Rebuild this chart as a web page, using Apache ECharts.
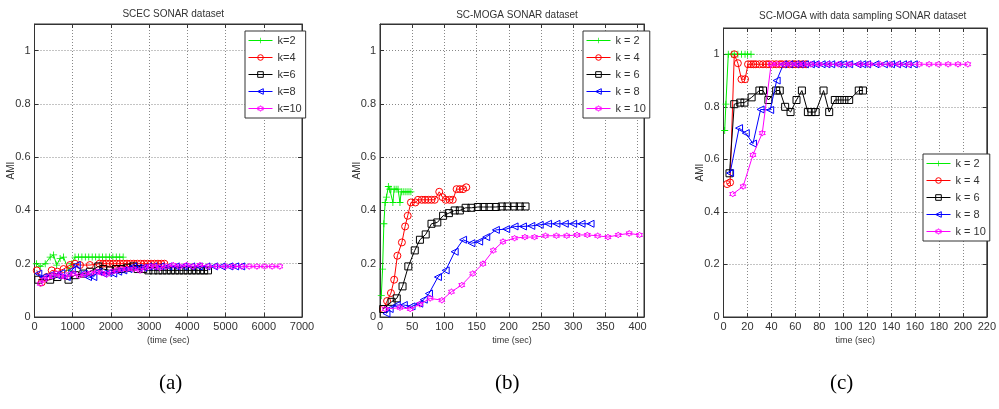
<!DOCTYPE html>
<html>
<head>
<meta charset="utf-8">
<title>AMI over time</title>
<script src="https://cdn.jsdelivr.net/npm/echarts@6/dist/echarts.min.js"></script>
<style>
  html, body { margin: 0; padding: 0; background: #fff; }
  #chart { width: 999px; height: 409px; }
</style>
</head>
<body>
<div id="chart"></div>
<script>
// ---- Panel titles, axis names, tick settings ----
const panelTitles = ['SCEC SONAR dataset', 'SC-MOGA SONAR dataset', 'SC-MOGA with data sampling SONAR dataset'];
const panelTags = ['(a)', '(b)', '(c)'];
const xNames = ['(time (sec)', 'time (sec)', 'time (sec)'];
const yName = 'AMI';
const xMax = [7000, 410, 220];
const xStep = [1000, 50, 20];
const yMax = 1.1;
const yStep = 0.2;
const namesA = ['k=2', 'k=4', 'k=6', 'k=8', 'k=10'];
const namesBC = ['k = 2', 'k = 4', 'k = 6', 'k = 8', 'k = 10'];

// ---- (a) SCEC: [time, AMI] ----
const scecK2 = [[50,0.20],[150,0.19],[280,0.20],[410,0.225],[500,0.233],[580,0.195],[670,0.22],[760,0.225],[890,0.175],[975,0.20],[1060,0.225],[1150,0.225],[1240,0.225],[1330,0.225],[1420,0.225],[1510,0.225],[1600,0.225],[1690,0.225],[1780,0.225],[1870,0.225],[1960,0.225],[2050,0.225],[2140,0.225],[2230,0.225],[2320,0.225]];
const scecK4 = [[60,0.175],[190,0.13],[320,0.15],[450,0.175],[600,0.17],[760,0.18],[930,0.195],[1060,0.20],[1190,0.195],[1450,0.195],[1700,0.20],[1790,0.20],[1880,0.20],[1970,0.20],[2060,0.20],[2150,0.20],[2240,0.20],[2330,0.20],[2420,0.20],[2510,0.20],[2600,0.20],[2690,0.20],[2780,0.20],[2870,0.20],[2960,0.20],[3050,0.20],[3140,0.20],[3230,0.20],[3320,0.20],[3400,0.20]];
const scecK6 = [[100,0.14],[410,0.14],[600,0.15],[890,0.14],[1060,0.157],[1280,0.163],[1450,0.17],[1670,0.19],[1800,0.18],[1975,0.175],[2130,0.18],[2280,0.18],[2430,0.185],[2585,0.19],[2700,0.18],[2845,0.18],[2980,0.175],[3110,0.175],[3240,0.175],[3350,0.175],[3460,0.175],[3570,0.175],[3680,0.175],[3790,0.175],[3900,0.175],[4010,0.175],[4120,0.175],[4230,0.175],[4340,0.175],[4440,0.175],[4540,0.175]];
const scecK8 = [[100,0.163],[235,0.15],[410,0.157],[580,0.157],[700,0.165],[845,0.15],[975,0.175],[1105,0.195],[1280,0.163],[1400,0.15],[1540,0.15],[1670,0.17],[1800,0.163],[1930,0.165],[2060,0.163],[2190,0.17],[2325,0.175],[2460,0.18],[2585,0.19],[2720,0.185],[2845,0.185],[2980,0.19],[3110,0.19],[3300,0.19],[3500,0.19],[3700,0.19],[3900,0.19],[4100,0.19],[4300,0.19],[4500,0.19],[4700,0.19],[4900,0.19],[5100,0.19],[5250,0.19],[5410,0.19]];
const scecK10 = [[150,0.125],[250,0.14],[365,0.15],[470,0.155],[580,0.163],[690,0.155],[800,0.15],[910,0.16],[1020,0.163],[1170,0.155],[1320,0.16],[1470,0.165],[1630,0.17],[1760,0.165],[1890,0.16],[2020,0.17],[2150,0.175],[2280,0.18],[2410,0.18],[2590,0.18],[2760,0.175],[2890,0.185],[3020,0.19],[3150,0.19],[3280,0.185],[3450,0.19],[3630,0.195],[3800,0.19],[3980,0.195],[4150,0.19],[4330,0.195],[4550,0.19],[4780,0.19],[5000,0.19],[5200,0.19],[5420,0.19],[5620,0.19],[5820,0.19],[6020,0.19],[6220,0.19],[6420,0.19]];

// ---- (b) SC-MOGA: [time, AMI] ----
const mogaK2 = [[2,0.08],[4,0.18],[6,0.35],[8,0.43],[10,0.45],[13,0.49],[15,0.48],[17,0.48],[20,0.43],[22,0.48],[25,0.48],[28,0.48],[31,0.43],[33,0.47],[36,0.47],[39,0.47],[42,0.47],[45,0.47],[48,0.47]];
const mogaK4 = [[5,0.03],[11,0.06],[17,0.09],[22,0.14],[27,0.23],[34,0.28],[39,0.34],[43,0.38],[48,0.43],[55,0.43],[59,0.44],[65,0.44],[70,0.44],[75,0.44],[80,0.44],[85,0.44],[92,0.47],[97,0.45],[102,0.44],[108,0.44],[113,0.44],[119,0.48],[124,0.48],[129,0.48],[134,0.487]];
const mogaK6 = [[5,0.03],[18,0.057],[26,0.07],[35,0.115],[44,0.19],[54,0.25],[62,0.29],[71,0.31],[80,0.35],[89,0.355],[98,0.38],[107,0.39],[116,0.40],[124,0.40],[133,0.41],[142,0.41],[152,0.413],[161,0.413],[170,0.413],[180,0.413],[189,0.415],[198,0.415],[208,0.415],[217,0.415],[226,0.415]];
const mogaK8 = [[10,0.013],[15,0.03],[26,0.045],[37,0.045],[49,0.04],[61,0.05],[68,0.065],[76,0.088],[90,0.15],[102,0.175],[116,0.245],[129,0.29],[142,0.277],[154,0.283],[165,0.30],[180,0.327],[196,0.33],[209,0.34],[222,0.34],[235,0.342],[248,0.346],[261,0.35],[274,0.35],[287,0.35],[300,0.35],[313,0.35],[327,0.35]];
const mogaK10 = [[8,0.03],[31,0.035],[47,0.03],[62,0.048],[78,0.07],[96,0.063],[111,0.095],[127,0.12],[144,0.163],[160,0.20],[176,0.25],[191,0.283],[209,0.296],[225,0.30],[240,0.30],[257,0.305],[274,0.305],[290,0.305],[306,0.308],[322,0.308],[338,0.305],[354,0.30],[370,0.308],[387,0.314],[403,0.308]];

// ---- (c) SC-MOGA with data sampling: [time, AMI] ----
const sampK2 = [[1,0.71],[2,0.81],[4,1],[7,1],[9,1],[12,1],[15,1],[18,1],[20,1],[23,1]];
const sampK4 = [[3,0.506],[5.5,0.512],[9,1.0],[12,0.966],[15,0.905],[18,0.905],[20.5,0.962],[23,0.962],[25,0.962],[27,0.962],[30,0.962],[33,0.962],[36,0.962],[38,0.962],[41,0.962],[44,0.962],[47,0.962],[49,0.962],[52,0.962],[55,0.962],[58,0.962],[60,0.962],[63,0.962],[66,0.962],[69,0.962]];
const sampK6 = [[5,0.547],[9,0.81],[14,0.816],[17.5,0.816],[23.5,0.836],[30,0.862],[33,0.862],[37.5,0.826],[44,0.862],[47,0.862],[51.5,0.80],[56,0.78],[61,0.826],[65.5,0.862],[70.5,0.78],[73.5,0.78],[77,0.78],[83.6,0.862],[88.3,0.78],[93,0.826],[97,0.826],[101,0.826],[105,0.826],[113,0.862],[116.5,0.862]];
const sampK8 = [[5.5,0.548],[13,0.719],[18.6,0.70],[24.6,0.66],[31,0.79],[39,0.788],[44.4,0.90],[50,0.962],[55,0.962],[60,0.962],[64,0.962],[68,0.962],[73,0.962],[77,0.962],[82,0.962],[86,0.962],[90,0.962],[96,0.962],[100,0.962],[105,0.962],[112,0.962],[116,0.962],[120,0.962],[127,0.962],[134,0.962],[140,0.962],[145,0.962],[150,0.962],[154,0.962],[159,0.962]];
const sampK10 = [[7.7,0.468],[16.4,0.497],[24.6,0.617],[32.4,0.70],[39.8,0.962],[45,0.962],[51,0.962],[56,0.962],[62,0.962],[67,0.962],[73,0.962],[80,0.962],[88,0.962],[96,0.962],[105,0.962],[114,0.962],[122,0.962],[131,0.962],[139,0.962],[147,0.962],[155,0.962],[163.6,0.962],[171.8,0.962],[179.5,0.962],[187.7,0.962],[195.9,0.962],[204.1,0.962]];

const panelData = [
  [scecK2, scecK4, scecK6, scecK8, scecK10],
  [mogaK2, mogaK4, mogaK6, mogaK8, mogaK10],
  [sampK2, sampK4, sampK6, sampK8, sampK10]
];

// ---- Styling ----
const FONT = '"Liberation Sans Narrow", "Liberation Sans", Arial, sans-serif';
const TEXT = '#333';
const NONE = 'rgba(0,0,0,0)';
const PLUS = 'path://M4.4,0 H5.6 V4.4 H10 V5.6 H5.6 V10 H4.4 V5.6 H0 V4.4 H4.4 Z';
const SQUARE = 'path://M0,0 H10 V10 H0 Z';
const LTRI = 'path://M0,5 L9,0 L9,10 Z';
const HEXA = 'path://M10,0 L12.89,5 L18.66,5 L15.77,10 L18.66,15 L12.89,15 L10,20 L7.11,15 L1.34,15 L4.23,10 L1.34,5 L7.11,5 Z';
const markStyles = [
  { color: '#00ee00', symbol: PLUS, size: 7, fill: '#00ee00', border: 0 },
  { color: '#ff0000', symbol: 'circle', size: 7, fill: NONE, border: 1 },
  { color: '#000000', symbol: SQUARE, size: 7, fill: NONE, border: 1 },
  { color: '#0000ff', symbol: LTRI, size: 7, fill: NONE, border: 1 },
  { color: '#ff00ff', symbol: HEXA, size: 6, fill: NONE, border: 1 }
];

// plot areas in pixels: [left, top, width, height]
const boxes = [
  [34.5, 24, 267.5, 293],
  [380, 24, 264, 293],
  [723.5, 28, 268.5, 289]
];
const legendPos = [
  { left: 245, top: 31 },
  { left: 583, top: 31 },
  { left: 923, top: 154 }
];
const titleTop = [4, 5, 6];
const tagX = [171, 507, 842];

const grids = boxes.map(b => ({
  left: b[0], top: b[1], width: b[2], height: b[3],
  show: true, borderColor: '#333', borderWidth: 1, backgroundColor: '#fff'
}));

const plainNumber = v => String(v);

const xAxes = [];
const yAxes = [];
for (let i = 0; i < 3; i++) {
  xAxes.push({
    type: 'value', gridIndex: i, min: 0, max: xMax[i], interval: xStep[i],
    name: xNames[i], nameLocation: 'middle', nameGap: 19, nameMoveOverlap: false,
    nameTextStyle: { fontSize: 9, color: TEXT, fontFamily: FONT },
    axisLine: { show: true, onZero: false, lineStyle: { color: '#333', width: 1 } },
    axisTick: { show: true, inside: true, length: 4, lineStyle: { color: '#333' } },
    axisLabel: { fontSize: 11, color: TEXT, fontFamily: FONT, margin: 4, formatter: plainNumber,
                 showMaxLabel: xMax[i] % xStep[i] === 0 },
    splitLine: { show: true, lineStyle: { color: '#888', type: [1, 2], width: 1 } }
  });
  yAxes.push({
    type: 'value', gridIndex: i, min: 0, max: yMax, interval: yStep,
    name: yName, nameLocation: 'middle', nameGap: 18, nameRotate: 90, nameMoveOverlap: false,
    nameTextStyle: { fontSize: 10, color: TEXT, fontFamily: FONT },
    axisLine: { show: true, onZero: false, lineStyle: { color: '#333', width: 1 } },
    axisTick: { show: true, inside: true, length: 4, lineStyle: { color: '#333' } },
    axisLabel: { fontSize: 11, color: TEXT, fontFamily: FONT, margin: 4, showMaxLabel: false },
    splitLine: { show: true, lineStyle: { color: '#888', type: [1, 2], width: 1 } }
  });
}
// mirrored ticks on the top and right edges of every box
for (let i = 0; i < 3; i++) {
  xAxes.push({
    type: 'value', gridIndex: i, position: 'top', min: 0, max: xMax[i], interval: xStep[i],
    axisLine: { show: true, onZero: false, lineStyle: { color: '#333' } },
    axisTick: { show: true, inside: true, length: 4, lineStyle: { color: '#333' } },
    axisLabel: { show: false }, splitLine: { show: false }
  });
  yAxes.push({
    type: 'value', gridIndex: i, position: 'right', min: 0, max: yMax, interval: yStep,
    axisLine: { show: true, onZero: false, lineStyle: { color: '#333' } },
    axisTick: { show: true, inside: true, length: 4, lineStyle: { color: '#333' } },
    axisLabel: { show: false }, splitLine: { show: false }
  });
}

const series = [];
for (let p = 0; p < 3; p++) {
  const names = p === 0 ? namesA : namesBC;
  panelData[p].forEach((data, k) => {
    const m = markStyles[k];
    series.push({
      type: 'line', name: names[k], data: data,
      xAxisIndex: p, yAxisIndex: p,
      symbol: m.symbol, symbolSize: m.size, showAllSymbol: true,
      lineStyle: { color: m.color, width: 1 },
      itemStyle: { color: m.fill, borderColor: m.color, borderWidth: m.border },
      emphasis: { disabled: true },
      z: 2 + k
    });
  });
}

const legends = legendPos.map((pos, i) => ({
  left: pos.left, top: pos.top, orient: 'vertical',
  data: (i === 0 ? namesA : namesBC).map((n, k) => ({
    name: n,
    itemStyle: { color: markStyles[k].fill, borderColor: markStyles[k].color, borderWidth: markStyles[k].border },
    lineStyle: { color: markStyles[k].color, width: 1 }
  })),
  backgroundColor: '#fff', borderColor: '#333', borderWidth: 1,
  padding: [4, 4, 4, 3], itemGap: 6, itemWidth: 24, itemHeight: 7,
  selectedMode: false,
  textStyle: { fontSize: 11, color: TEXT, fontFamily: FONT }
}));

const titles = boxes.map((b, i) => ({
  text: panelTitles[i], left: b[0] + b[2] / 2, top: titleTop[i], textAlign: 'center',
  textStyle: { fontSize: 10, fontWeight: 'normal', color: TEXT, fontFamily: FONT }
}));

const tags = panelTags.map((t, i) => ({
  type: 'text', left: tagX[i] - 12, top: 373,
  style: { text: t, font: '21px "Liberation Serif", "Times New Roman", serif', fill: '#000' }
}));

const chart = echarts.init(document.getElementById('chart'), null, { renderer: 'canvas' });
chart.setOption({
  animation: false,
  backgroundColor: '#fff',
  title: titles,
  legend: legends,
  grid: grids,
  xAxis: xAxes,
  yAxis: yAxes,
  series: series,
  graphic: tags
});
</script>
</body>
</html>
